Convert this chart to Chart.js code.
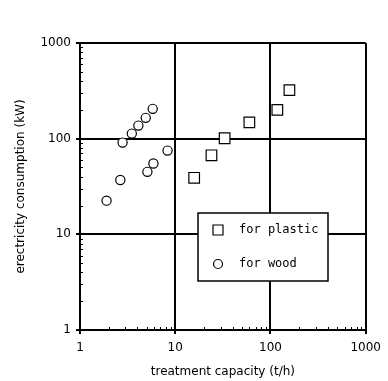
<!DOCTYPE html>
<html>
<head>
<meta charset="utf-8">
<script src="https://cdn.jsdelivr.net/npm/chart.js@4/dist/chart.umd.min.js"></script>
<style>
  html, body { margin: 0; padding: 0; background: #fff; }
  #wrap { width: 388px; height: 381px; }
</style>
</head>
<body>
<div id="wrap"><canvas id="chart" width="388" height="381"></canvas></div>
<script>
// data
const plasticX = [15.8, 24, 33, 60, 118, 158];
const plasticY = [39, 67, 101, 148, 200, 322];
const woodX = [1.9, 2.65, 2.8, 3.5, 4.1, 4.9, 5.1, 5.9, 5.8, 8.3];
const woodY = [22.5, 37, 91, 113, 137, 165, 45, 55, 205, 75];
const decadeTicks = [1, 10, 100, 1000];
const seriesLabels = ['for plastic', 'for wood'];

function toPoints(xs, ys) {
    return xs.map((x, i) => ({ x: x, y: ys[i] }));
}

// minor ticks between decades, drawn inward on left and bottom axes
const minorTicks = {
    id: 'minorTicks',
    afterDraw(chart) {
        const ctx = chart.ctx;
        const xs = chart.scales.x, ys = chart.scales.y;
        const area = chart.chartArea;
        ctx.save();
        ctx.strokeStyle = '#000';
        ctx.lineWidth = 1;
        ctx.beginPath();
        for (let d = 1; d < 1000; d *= 10) {
            for (let k = 2; k <= 9; k++) {
                const px = Math.round(xs.getPixelForValue(k * d)) + 0.5;
                ctx.moveTo(px, area.bottom);
                ctx.lineTo(px, area.bottom - 3);
                const py = Math.round(ys.getPixelForValue(k * d)) + 0.5;
                ctx.moveTo(area.left, py);
                ctx.lineTo(area.left + 3, py);
            }
        }
        ctx.stroke();
        ctx.restore();
    }
};

// legend box inside the plot
const boxLegend = {
    id: 'boxLegend',
    afterDraw(chart) {
        const ctx = chart.ctx;
        const area = chart.chartArea;
        const left = area.left + 118, top = area.top + 170;
        const w = 130, h = 68;
        ctx.save();
        ctx.fillStyle = '#fff';
        ctx.fillRect(left, top, w, h);
        ctx.strokeStyle = '#000';
        ctx.lineWidth = 1.5;
        ctx.strokeRect(left, top, w, h);
        ctx.font = '12px "DejaVu Sans Mono"';
        ctx.fillStyle = '#000';
        ctx.textBaseline = 'middle';
        ctx.textAlign = 'left';
        chart.data.datasets.forEach((ds, i) => {
            const cy = top + 17 + i * 34;
            const cx = left + 20;
            ctx.lineWidth = 1.2;
            ctx.strokeStyle = '#000';
            ctx.fillStyle = '#fff';
            ctx.beginPath();
            if (ds.pointStyle === 'rect') {
                ctx.rect(cx - 5, cy - 5, 10, 10);
            } else {
                ctx.arc(cx, cy, 4.5, 0, Math.PI * 2);
            }
            ctx.fill();
            ctx.stroke();
            ctx.fillStyle = '#000';
            ctx.fillText(ds.label, left + 41, cy);
        });
        ctx.restore();
    }
};

const axisFont = { family: '"DejaVu Sans"', size: 12 };

const ctx = document.getElementById('chart').getContext('2d');
new Chart(ctx, {
    type: 'scatter',
    data: {
        datasets: [
            {
                label: seriesLabels[0],
                data: toPoints(plasticX, plasticY),
                pointStyle: 'rect',
                pointRadius: 7.5,
                pointHoverRadius: 7.5,
                borderColor: '#000',
                backgroundColor: '#fff',
                borderWidth: 1.2
            },
            {
                label: seriesLabels[1],
                data: toPoints(woodX, woodY),
                pointStyle: 'circle',
                pointRadius: 4.6,
                pointHoverRadius: 4.6,
                borderColor: '#000',
                backgroundColor: '#fff',
                borderWidth: 1.2
            }
        ]
    },
    options: {
        responsive: false,
        animation: false,
        layout: { padding: { top: 43, right: 20, left: 0, bottom: 0 } },
        plugins: {
            legend: { display: false },
            tooltip: { enabled: false }
        },
        scales: {
            x: {
                type: 'logarithmic',
                min: 1,
                max: 1000,
                afterBuildTicks: (scale) => {
                    scale.ticks = decadeTicks.map(v => ({ value: v }));
                },
                afterFit: (scale) => { scale.height = 51; },
                ticks: {
                    color: '#000',
                    font: axisFont,
                    padding: 7,
                    maxRotation: 0,
                    autoSkip: false,
                    callback: (v) => String(v)
                },
                grid: { color: '#000', lineWidth: 2, tickLength: 4 },
                border: { color: '#000', width: 2 },
                title: {
                    display: true,
                    text: 'treatment capacity (t/h)',
                    color: '#000',
                    font: axisFont,
                    padding: { top: 0, bottom: 2 }
                }
            },
            y: {
                type: 'logarithmic',
                min: 1,
                max: 1000,
                afterBuildTicks: (scale) => {
                    scale.ticks = decadeTicks.map(v => ({ value: v }));
                },
                afterFit: (scale) => { scale.width = 80; },
                ticks: {
                    color: '#000',
                    font: axisFont,
                    padding: 5,
                    autoSkip: false,
                    callback: (v) => String(v)
                },
                grid: { color: '#000', lineWidth: 2, tickLength: 4 },
                border: { color: '#000', width: 2 },
                title: {
                    display: true,
                    text: 'erectricity consumption (kW)',
                    color: '#000',
                    font: axisFont,
                    padding: { top: 14, bottom: 0 }
                }
            }
        }
    },
    plugins: [minorTicks, boxLegend]
});
</script>
</body>
</html>
